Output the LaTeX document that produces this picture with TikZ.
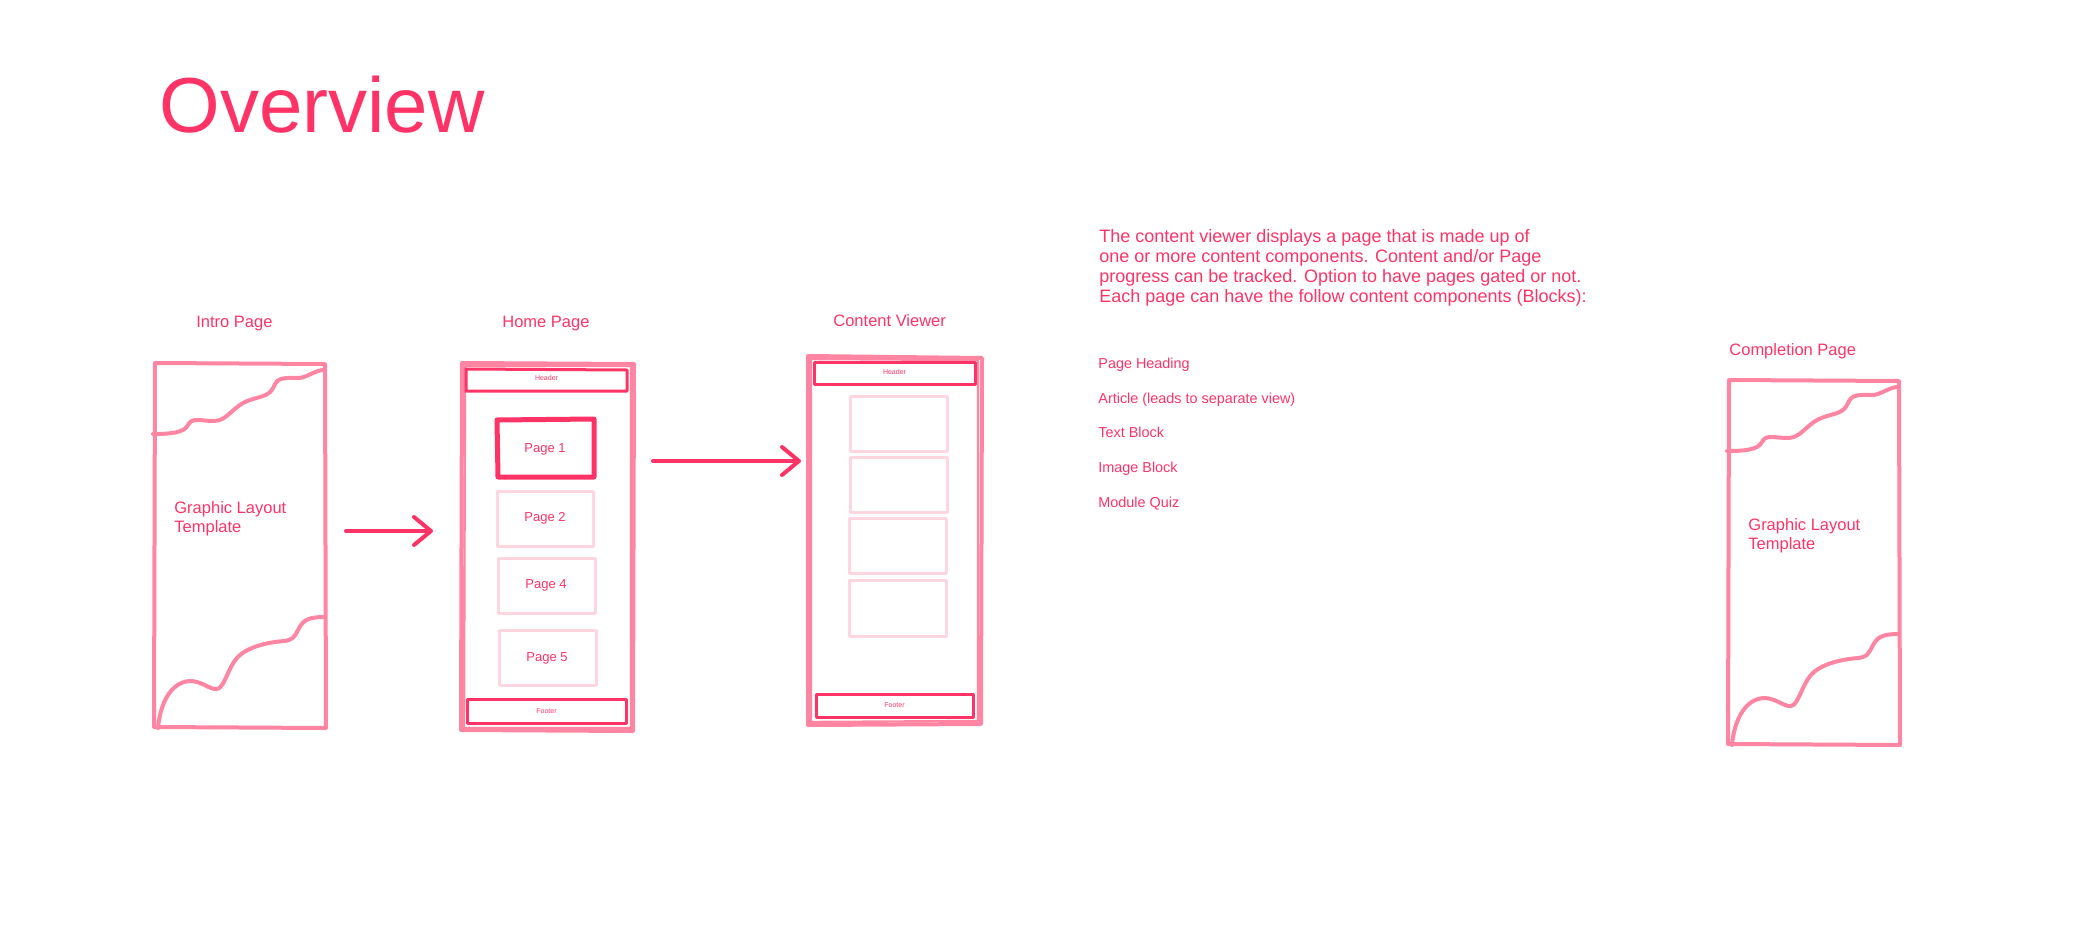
\documentclass[tikz,border=0pt]{standalone}
\usepackage{fontspec}
\setmainfont{Liberation Sans}
\usetikzlibrary{arrows.meta}
\definecolor{hotpink}{HTML}{FF3366}

\tikzset{
  frame/.style={color=hotpink!60, line width=2pt, line join=round, line cap=round},
  wave/.style={color=hotpink!60, line width=2pt, line cap=round},
  bar/.style={color=hotpink, line width=1.5pt, line join=round},
  block/.style={color=hotpink!20, line width=1.5pt, line join=round},
  flow/.style={color=hotpink, line width=2pt, line cap=round, -{Straight Barb[length=8.5pt,width=14pt,round]}},
  title/.style={text=hotpink, font=\fontsize{39pt}{44pt}\selectfont, inner sep=0pt, anchor=base west},
  lbl/.style={text=hotpink, font=\fontsize{8.25pt}{9.5pt}\selectfont, inner sep=0pt, anchor=base west},
  desc/.style={text=hotpink, font=\fontsize{9pt}{10pt}\selectfont, inner sep=0pt, anchor=base west},
  item/.style={text=hotpink, font=\fontsize{7.2pt}{8pt}\selectfont, inner sep=0pt, anchor=base west},
  pg/.style={text=hotpink, font=\fontsize{6.5pt}{8pt}\selectfont, inner sep=0pt},
  tiny/.style={text=hotpink, font=\fontsize{3.5pt}{4pt}\selectfont, inner sep=0pt}
}

\begin{document}
\begin{tikzpicture}[x=0.5pt,y=0.5pt,yscale=-1]
\useasboundingbox (0,0) rectangle (2074,932);

% Title
\node [title] (overview) at (159,132) {Overview};

%%% Intro Page
\node [lbl] (introlbl) at (196,327) {Intro Page};
%Shape: Frame
\draw [frame] (155,363) -- (325,364) -- (326,728) -- (154,727) -- cycle ;
%Curve Lines: top wave
\draw [wave] (153,434) .. controls (170,434) and (184,433) .. (188,425) .. controls (192,417) and (200,421) .. (214,421) .. controls (228,421) and (232,406) .. (250,400) .. controls (262,396) and (270,396) .. (274,386) .. controls (278,377) and (284,378) .. (298,378) .. controls (306,378) and (312,372) .. (322,370) ;
%Curve Lines: bottom wave
\draw [wave] (158,728) .. controls (160,705) and (170,682) .. (190,681) .. controls (202,681) and (210,690) .. (217,689) .. controls (225,688) and (228,665) .. (240,655) .. controls (252,645) and (272,642) .. (284,641) .. controls (292,640) and (294,638) .. (298,630) .. controls (303,620) and (308,617) .. (325,617) ;
% Text Node
\node [lbl] (introtxt1) at (174,513) {Graphic Layout};
\node [lbl] (introtxt2) at (174,532) {Template};

%%% Home Page
\node [lbl] (homelbl) at (502,327) {Home Page};
%Shape: Frame (two strokes)
\draw [frame] (462,363) -- (634,364) -- (633,731) -- (461,730) -- cycle ;
\draw [frame, line width=1.2pt] (465,366) -- (631,366) -- (631,728) -- (464,728) -- cycle ;
%Shape: Header
\draw [bar] (466,369) -- (627,370) -- (627,391) -- (466,391) -- cycle ;
\node [tiny] (homehead) at (546.5,378) {Header};
%Shape: Page 1
\draw [bar, line width=2.5pt] (497,420) -- (594,419) -- (594,477) -- (498,477) -- cycle ;
\node [pg] (page1) at (545,449) {Page 1};
%Shape: Page 2, 4, 5
\draw [block] (497,491) -- (593,491) -- (593,546) -- (497,546) -- cycle ;
\node [pg] (page2) at (545,518) {Page 2};
\draw [block] (498,558) -- (595,558) -- (595,613) -- (498,613) -- cycle ;
\node [pg] (page4) at (546,585) {Page 4};
\draw [block] (499,630) -- (596,630) -- (596,685) -- (499,685) -- cycle ;
\node [pg] (page5) at (547,658) {Page 5};
%Shape: Footer
\draw [bar] (467,699) -- (626,699) -- (626,723) -- (467,723) -- cycle ;
\node [tiny] (homefoot) at (546.5,711) {Footer};

%%% Content Viewer
\node [lbl] (viewlbl) at (833,326) {Content Viewer};
%Shape: Frame (two strokes)
\draw [frame] (808,356) -- (982,358) -- (981,724) -- (808,725) -- cycle ;
\draw [frame, line width=1.2pt] (811,359) -- (978,360) -- (978,721) -- (811,722) -- cycle ;
%Shape: Header
\draw [bar] (814,362) -- (975,362) -- (975,384) -- (814,384) -- cycle ;
\node [tiny] (viewhead) at (894.5,372) {Header};
%Shape: Blocks
\draw [block] (850,396) -- (947,396) -- (947,451) -- (850,451) -- cycle ;
\draw [block] (850,457) -- (947,457) -- (947,512) -- (850,512) -- cycle ;
\draw [block] (849,518) -- (946,518) -- (946,573) -- (849,573) -- cycle ;
\draw [block] (849,580) -- (946,580) -- (946,636) -- (849,636) -- cycle ;
%Shape: Footer
\draw [bar] (816,694) -- (973,694) -- (973,717) -- (816,717) -- cycle ;
\node [tiny] (viewfoot) at (894.5,705) {Footer};

%Straight Lines: arrows
\coordinate (introout) at (346,531);
\coordinate (homein) at (433,531);
\coordinate (homeout) at (653,461);
\coordinate (viewin) at (801,461);
\draw [flow] (introout) -- (homein) ;
\draw [flow] (homeout) -- (viewin) ;

%%% Description
\node [desc] (desc1) at (1099,242) {The content viewer displays a page that is made up of};
\node [desc] (desc2) at (1099,262) {one or more content components. Content and/or Page};
\node [desc] (desc3) at (1099,282) {progress can be tracked. Option to have pages gated or not.};
\node [desc] (desc4) at (1099,302) {Each page can have the follow content components (Blocks):};

\node [item] (heading) at (1098,368) {Page Heading};
\node [item] (article) at (1098,403) {Article (leads to separate view)};
\node [item] (textblk) at (1098,437) {Text Block};
\node [item] (imageblk) at (1098,472) {Image Block};
\node [item] (quiz) at (1098,507) {Module Quiz};

%%% Completion Page
\node [lbl] (donelbl) at (1729,355) {Completion Page};
%Shape: Frame
\draw [frame] (1729,380) -- (1899,381) -- (1900,745) -- (1728,744) -- cycle ;
%Curve Lines: top wave
\draw [wave] (1727,451) .. controls (1744,451) and (1758,450) .. (1762,442) .. controls (1766,434) and (1774,438) .. (1788,438) .. controls (1802,438) and (1806,423) .. (1824,417) .. controls (1836,413) and (1844,413) .. (1848,403) .. controls (1852,394) and (1858,395) .. (1872,395) .. controls (1880,395) and (1886,389) .. (1896,387) ;
%Curve Lines: bottom wave
\draw [wave] (1732,745) .. controls (1734,722) and (1744,699) .. (1764,698) .. controls (1776,698) and (1784,707) .. (1791,706) .. controls (1799,705) and (1802,682) .. (1814,672) .. controls (1826,662) and (1846,659) .. (1858,658) .. controls (1866,657) and (1868,655) .. (1872,647) .. controls (1877,637) and (1882,634) .. (1899,634) ;
% Text Node
\node [lbl] (donetxt1) at (1748,530) {Graphic Layout};
\node [lbl] (donetxt2) at (1748,549) {Template};

\end{tikzpicture}
\end{document}
